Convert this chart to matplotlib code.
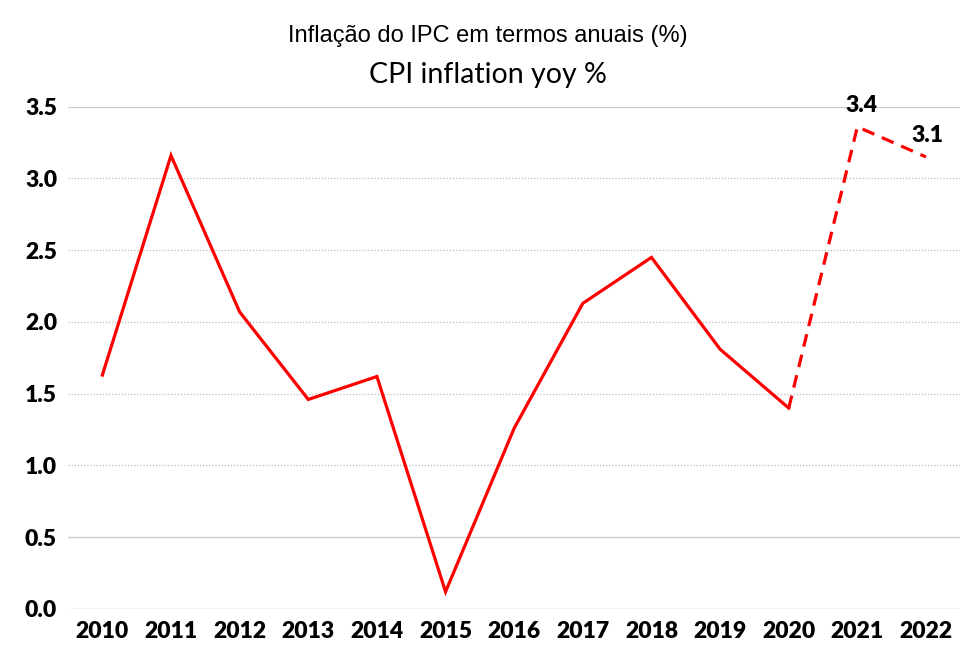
import matplotlib
matplotlib.use("Agg")
import matplotlib.pyplot as plt

years = ["2010", "2011", "2012", "2013", "2014", "2015", "2016", "2017", "2018", "2019", "2020", "2021", "2022"]
actual = [1.63, 3.16, 2.07, 1.46, 1.62, 0.12, 1.26, 2.13, 2.45, 1.81, 1.40]
forecast_years = ["2020", "2021", "2022"]
forecast = [1.40, 3.36, 3.15]
forecast_labels = ["3.4", "3.1"]
yticks = [0.0, 0.5, 1.0, 1.5, 2.0, 2.5, 3.0, 3.5]

fig = plt.figure(figsize=(9.72, 6.67), dpi=100)
ax = fig.add_axes([0.070, 0.087, 0.918, 0.753])

xi = {y: i for i, y in enumerate(years)}
ax.plot([xi[y] for y in years[:len(actual)]], actual, color="#ff0000", lw=2.3, solid_joinstyle="miter")
ax.plot([xi[y] for y in forecast_years], forecast, color="#ff0000", lw=2.3, ls=(0, (4, 2.6)))

ax.set_xlim(-0.5, len(years) - 0.5)
ax.set_ylim(0, 3.5)
ax.set_xticks(range(len(years)))
ax.set_xticklabels(years)
ax.set_yticks(yticks)
ax.set_yticklabels([f"{v:.1f}" for v in yticks])
for lab in ax.get_xticklabels() + ax.get_yticklabels():
    lab.set_fontfamily("Lato")
    lab.set_fontweight("heavy")
    lab.set_fontsize(16.5)
ax.tick_params(length=0)
ax.tick_params(axis="x", pad=9)
ax.tick_params(axis="y", pad=31)
for lab in ax.get_yticklabels():
    lab.set_horizontalalignment("left")
for s in ax.spines.values():
    s.set_visible(False)

for v in yticks:
    if v in (0.0, 0.5, 3.5):
        ax.axhline(v, color="#cccccc", lw=1.0, zorder=0)
    else:
        ax.axhline(v, color="#bbbbbb", lw=0.9, ls=(0, (1, 1.5)), zorder=0)

ax.annotate(forecast_labels[0], (xi["2021"], forecast[1]), xytext=(3, 8), textcoords="offset points",
            ha="center", va="bottom", fontfamily="Lato", fontweight="heavy", fontsize=16.5, annotation_clip=False)
ax.annotate(forecast_labels[1], (xi["2022"], forecast[2]), xytext=(1, 8), textcoords="offset points",
            ha="center", va="bottom", fontfamily="Lato", fontweight="heavy", fontsize=16.5, annotation_clip=False)

fig.text(0.502, 0.946, "Inflação do IPC em termos anuais (%)", ha="center", va="center",
         fontfamily=["Liberation Sans Narrow", "Liberation Sans"], fontsize=17)
fig.text(0.502, 0.888, "CPI inflation yoy %", ha="center", va="center", fontfamily="Lato", fontsize=20.5)

fig.savefig("out.png", dpi=100)
